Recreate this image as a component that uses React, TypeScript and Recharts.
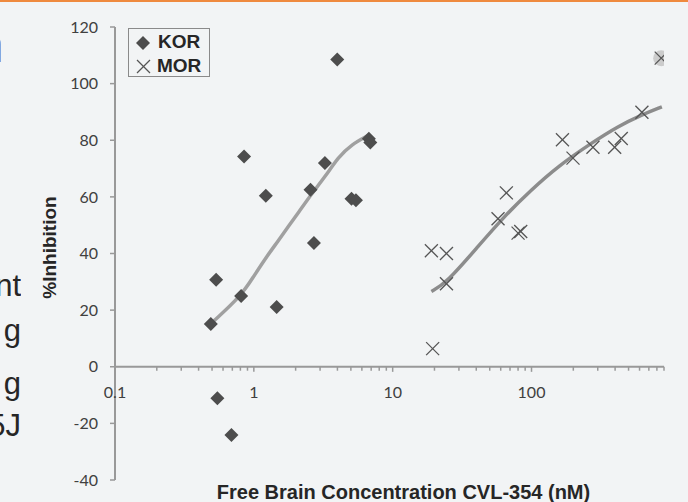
import {
  ComposedChart, Scatter, Line, XAxis, YAxis, ReferenceLine, ReferenceDot, Legend,
} from 'recharts';

// KOR (diamonds) measured points
const KOR_CONC = [0.49, 0.535, 0.81, 0.85, 1.22, 1.46, 2.56, 2.71, 3.25, 3.99, 5.05, 5.44, 6.74, 6.9, 0.546, 0.69];
const KOR_INHIB = [15.1, 30.7, 25, 74.3, 60.4, 21.1, 62.5, 43.7, 72, 108.5, 59.3, 58.8, 80.5, 79.2, -11.1, -24.1];

// MOR (crosses) measured points
const MOR_CONC = [19.0, 24.4, 24.4, 19.4, 57.4, 65.9, 80, 83.6, 167, 199, 277, 397, 443, 624, 859];
const MOR_INHIB = [41, 40, 29.3, 6.4, 52.3, 61.4, 47.2, 47.8, 80.2, 73.7, 77.5, 77.5, 80.6, 89.9, 109];

// fitted curves
const KOR_FIT_CONC = [0.51, 0.81, 1.0, 1.2, 1.5, 1.77, 2.1, 2.6, 3.25, 4.05, 5.05, 6.7];
const KOR_FIT_INHIB = [16, 25, 32, 38, 44.5, 49.5, 54.5, 61, 67, 74, 78.5, 81.8];
const MOR_FIT_CONC = [19, 24.4, 41.2, 64.1, 99.7, 155, 270, 419, 624, 869];
const MOR_FIT_INHIB = [26.6, 29.6, 42.5, 53.3, 62.5, 70.8, 79, 84.9, 89, 91.8];

// grey highlighted point behind the top MOR cross
const HIGHLIGHT_CONC = [859];
const HIGHLIGHT_INHIB = [109];

const Y_TICKS = [-40, -20, 0, 20, 40, 60, 80, 100, 120];
const X_MAJOR = [0.1, 1, 10, 100];
const X_MINOR = [
  0.2, 0.3, 0.4, 0.5, 0.6, 0.7, 0.8, 0.9,
  2, 3, 4, 5, 6, 7, 8, 9,
  20, 30, 40, 50, 60, 70, 80, 90,
  200, 300, 400, 500, 600, 700, 800, 900,
];

// fragments of the slide text that the crop cuts at the left edge
const SIDE_TEXT = ['nt', 'g', 'g', '5J'];
const SIDE_TOP = [268, 313, 366, 408];

const zip = (xs: number[], ys: number[]) => xs.map((x, i) => ({ x, y: ys[i] }));

const kor = zip(KOR_CONC, KOR_INHIB);
const mor = zip(MOR_CONC, MOR_INHIB);
const korFit = zip(KOR_FIT_CONC, KOR_FIT_INHIB);
const morFit = zip(MOR_FIT_CONC, MOR_FIT_INHIB);
const highlight = zip(HIGHLIGHT_CONC, HIGHLIGHT_INHIB);

const AXIS = '#999999';
const TICK_FONT = { fill: '#404040', fontSize: 16, fontFamily: 'Lato' };
const BOLD = 'Liberation Sans, Arial, sans-serif';

const Diamond = (p: any) => {
  const { cx, cy } = p;
  const h = 7;
  return <polygon points={`${cx},${cy - h} ${cx + h},${cy} ${cx},${cy + h} ${cx - h},${cy}`} fill="#4d4d4d" />;
};

const Cross = (p: any) => {
  const { cx, cy } = p;
  const h = 6.5;
  return (
    <g stroke="#555" strokeWidth={1.3}>
      <line x1={cx - h} y1={cy - h} x2={cx + h} y2={cy + h} />
      <line x1={cx - h} y1={cy + h} x2={cx + h} y2={cy - h} />
    </g>
  );
};

const Halo = (p: any) => <circle cx={p.cx} cy={p.cy} r={8} fill="#cccccc" />;

const LegendBox = () => (
  <div style={{ width: 82, height: 49, border: '1px solid #8a8a8a', boxSizing: 'border-box', fontFamily: BOLD, fontWeight: 'bold', fontSize: 19, color: '#262626' }}>
    <div style={{ display: 'flex', alignItems: 'center', height: 24, marginTop: 1 }}>
      <svg width={28} height={24}><polygon points="14,6 21,13 14,20 7,13" fill="#4d4d4d" /></svg>
      <span style={{ marginLeft: 1 }}>KOR</span>
    </div>
    <div style={{ display: 'flex', alignItems: 'center', height: 24 }}>
      <svg width={28} height={24}>
        <g stroke="#555" strokeWidth={1.3}>
          <line x1={8} y1={6} x2={21} y2={19} />
          <line x1={8} y1={19} x2={21} y2={6} />
        </g>
      </svg>
      <span>MOR</span>
    </div>
  </div>
);

const YTitle = (p: any) => {
  const vb = p.viewBox;
  const x = vb.x + 56;
  const y = vb.y + vb.height / 2 - 6;
  return (
    <text x={x} y={y} transform={`rotate(-90 ${x} ${y})`} textAnchor="middle" fill="#262626" fontSize={19} fontWeight="bold" fontFamily={BOLD}>
      %Inhibition
    </text>
  );
};

export default function App() {
  return (
    <div style={{ position: 'absolute', left: 0, top: 0, width: 688, height: 502, background: '#f2f4f5', overflow: 'hidden' }}>
      <div style={{ position: 'absolute', left: 0, top: 0, width: 688, height: 2, background: '#ef8a3e' }} />
      <div style={{ position: 'absolute', left: 0, top: 18, width: 4, height: 70, overflow: 'hidden' }}>
        <span style={{ position: 'absolute', right: 0, top: 0, fontFamily: BOLD, fontSize: 52, color: '#2f6fd1', lineHeight: '52px' }}>n</span>
      </div>
      {SIDE_TEXT.map((t, i) => (
        <div key={i} style={{ position: 'absolute', left: 0, top: SIDE_TOP[i], width: 21, height: 40, overflow: 'hidden' }}>
          <span style={{ position: 'absolute', right: 0, top: 0, fontFamily: 'Liberation Sans, Arial', fontSize: 31, color: '#262626', lineHeight: '36px', whiteSpace: 'nowrap' }}>{t}</span>
        </div>
      ))}
      <div style={{ position: 'absolute', left: 0, top: 0 }}>
        <ComposedChart width={688} height={502} margin={{ top: 27, right: 24, bottom: 0, left: 0 }}>
          <XAxis
            dataKey="x"
            type="number"
            scale="log"
            domain={[0.1, 900]}
            allowDataOverflow
            height={22}
            axisLine={false}
            tickLine={false}
            tick={false}
            label={{
              value: 'Free Brain Concentration CVL-354 (nM)',
              position: 'insideBottom',
              offset: 3,
              dx: 14,
              fill: '#262626',
              fontSize: 20,
              fontWeight: 'bold',
              fontFamily: BOLD,
            }}
          />
          <YAxis
            type="number"
            domain={[-40, 120]}
            ticks={Y_TICKS}
            width={115}
            tickSize={5}
            tickMargin={12}
            axisLine={{ stroke: AXIS, strokeWidth: 2 }}
            tickLine={{ stroke: AXIS, strokeWidth: 1.5 }}
            tick={TICK_FONT}
            label={<YTitle />}
          />
          <ReferenceLine y={0} stroke={AXIS} strokeWidth={2} />
          {X_MINOR.map(v => (
            <ReferenceLine key={`m${v}`} segment={[{ x: v, y: 0 }, { x: v, y: -1.4 }]} stroke={AXIS} strokeWidth={1.5} />
          ))}
          {X_MAJOR.map(v => (
            <ReferenceLine key={`M${v}`} segment={[{ x: v, y: 0 }, { x: v, y: -1.8 }]} stroke={AXIS} strokeWidth={1.5} />
          ))}
          {X_MAJOR.map(v => (
            <ReferenceDot
              key={`l${v}`}
              x={v}
              y={0}
              r={0}
              fill="none"
              stroke="none"
              label={{ value: String(v), position: 'bottom', offset: 20, ...TICK_FONT }}
            />
          ))}
          <Line data={korFit} dataKey="y" type="basis" stroke="#a0a0a0" strokeWidth={3.5} dot={false} isAnimationActive={false} />
          <Line data={morFit} dataKey="y" type="basis" stroke="#8c8c8c" strokeWidth={3.5} dot={false} isAnimationActive={false} />
          <Scatter data={highlight} dataKey="y" shape={Halo} isAnimationActive={false} />
          <Scatter data={kor} dataKey="y" shape={Diamond} isAnimationActive={false} />
          <Scatter data={mor} dataKey="y" shape={Cross} isAnimationActive={false} />
          <Legend
            layout="horizontal"
            verticalAlign="middle"
            align="center"
            wrapperStyle={{ top: 28, left: 128, width: 82 }}
            content={<LegendBox />}
          />
        </ComposedChart>
      </div>
    </div>
  );
}
